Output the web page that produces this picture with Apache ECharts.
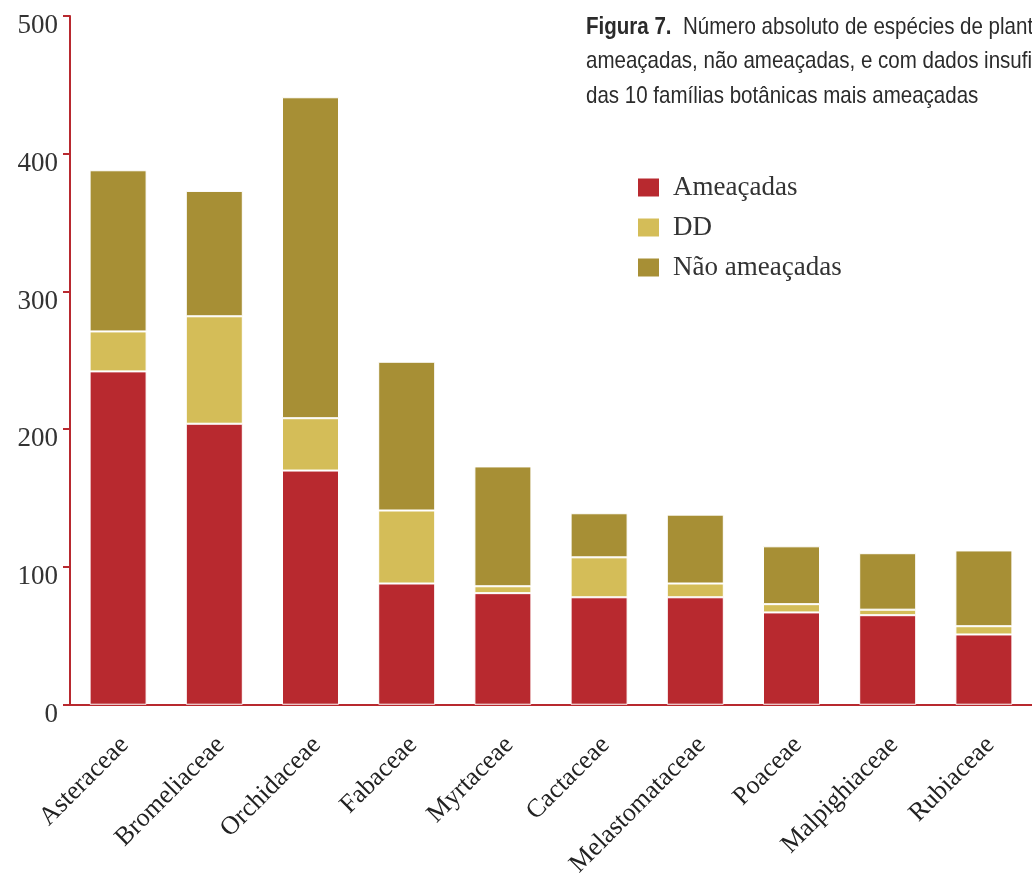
<!DOCTYPE html>
<html>
<head>
<meta charset="utf-8">
<script src="https://cdn.jsdelivr.net/npm/echarts@6/dist/echarts.min.js"></script>
<style>html,body{margin:0;padding:0;background:#fff}#c{width:1032px;height:880px}</style>
</head>
<body>
<div id="c"></div>
<script>
const categories = ['Asteraceae','Bromeliaceae','Orchidaceae','Fabaceae','Myrtaceae','Cactaceae','Melastomataceae','Poaceae','Malpighiaceae','Rubiaceae'];
const ameacadas = [242, 204, 170, 88, 81, 78, 78, 67, 65, 51];
const dd = [29, 78, 38, 53, 5, 29, 10, 6, 4, 6];
const naoAmeacadas = [117, 91, 233, 108, 87, 32, 50, 42, 41, 55];
const seriesNames = ['Ameaçadas', 'DD', 'Não ameaçadas'];
const yTicks = [0, 100, 200, 300, 400, 500];
const titleBold = 'Figura 7.';
const titleLines = ['Número absoluto de espécies de plantas', 'ameaçadas, não ameaçadas, e com dados insuficientes (DD)', 'das 10 famílias botânicas mais ameaçadas'];

const serif = '"Liberation Serif", "DejaVu Serif", serif';
const sans = '"Liberation Sans", Arial, sans-serif';
const axisRed = '#B8292F';
const colors = ['#B8292F', '#D4BD58', '#A78F35'];
const chart = echarts.init(document.getElementById('c'));
const mk = (name, data, color) => ({
  name, type: 'bar', stack: 'total', data, barWidth: 57,
  itemStyle: { color, borderColor: '#ffffff', borderWidth: 1 }
});
chart.setOption({
  animation: false,
  graphic: [{
    type: 'text', left: 586, top: 10, scaleX: 0.855, originX: 0,
    style: {
      text: '{b|' + titleBold + '}  ' + titleLines.join('\n'),
      fontFamily: sans, fontSize: 24, fill: '#2b2b2b', lineHeight: 34.5,
      rich: { b: { fontFamily: sans, fontSize: 24, fontWeight: 'bold', fill: '#2b2b2b', color: '#2b2b2b', lineHeight: 34.5 } }
    }
  }],
  legend: {
    orient: 'vertical', left: 636, top: 174, padding: 0,
    itemWidth: 23, itemHeight: 20, itemGap: 13,
    data: seriesNames,
    icon: 'rect',
    textStyle: { fontFamily: serif, fontSize: 27, color: '#333', padding: [0, 0, 0, 8] }
  },
  grid: { left: 70, right: -8, top: 16, bottom: 175, containLabel: false },
  xAxis: {
    type: 'category', data: categories,
    axisLine: { lineStyle: { color: axisRed, width: 2 } },
    axisTick: { show: false },
    axisLabel: { rotate: 45, fontFamily: serif, fontSize: 26, color: '#222', margin: 30, interval: 0, verticalAlign: 'top', lineHeight: 18 }
  },
  yAxis: {
    type: 'value', min: yTicks[0], max: yTicks[yTicks.length - 1], interval: 100,
    splitLine: { show: false },
    axisLine: { show: true, lineStyle: { color: axisRed, width: 2 } },
    axisTick: { show: true, length: 7, lineStyle: { color: axisRed, width: 2 } },
    axisLabel: { fontFamily: serif, fontSize: 27, color: '#333', margin: 12, verticalAlign: 'top', lineHeight: 20 }
  },
  series: [
    mk(seriesNames[0], ameacadas, colors[0]),
    mk(seriesNames[1], dd, colors[1]),
    mk(seriesNames[2], naoAmeacadas, colors[2])
  ]
});
</script>
</body>
</html>
